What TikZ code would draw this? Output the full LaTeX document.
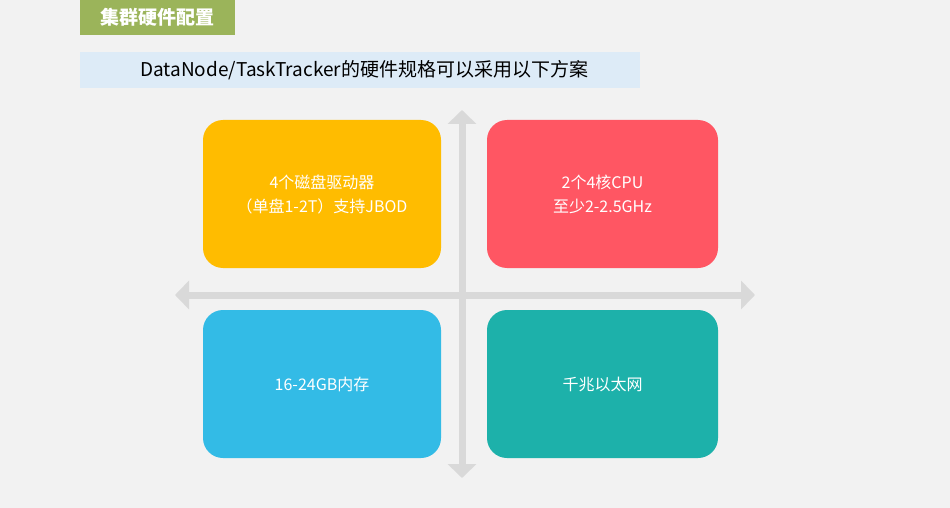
\documentclass[tikz,border=0pt]{standalone}
\usepackage{fontspec}
\setmainfont{Noto Sans CJK SC}
\usetikzlibrary{arrows.meta}
\definecolor{bg}{HTML}{F2F2F2}
\definecolor{tgreen}{HTML}{9BB45A}
\definecolor{sband}{HTML}{DDEBF7}
\definecolor{axis}{HTML}{D9D9D9}
\definecolor{corange}{HTML}{FFBC00}
\definecolor{cred}{HTML}{FF5663}
\definecolor{cblue}{HTML}{33BBE6}
\definecolor{cteal}{HTML}{1DB1AA}
\tikzset{
  quad/.style={rounded corners=20pt, minimum width=238pt, minimum height=148pt, inner sep=0pt, text=white, font=\fontsize{16pt}{24pt}\selectfont, align=center},
  axisline/.style={draw=axis, line width=7pt, -{Triangle[width=28pt,length=14pt]}}
}
\begin{document}
\begin{tikzpicture}[x=1pt,y=-1pt]
\fill[bg] (0,0) rectangle (950,508);
\useasboundingbox (0,0) rectangle (950,508);
\node[fill=tgreen, minimum width=155pt, minimum height=35pt, inner sep=0pt, text=white, font=\bfseries\fontsize{19pt}{22pt}\selectfont] (title) at (157.5,17.5) {集群硬件配置};
\node[fill=sband, minimum width=560pt, minimum height=36pt, inner sep=0pt, anchor=west, text=black, font=\fontsize{19pt}{22pt}\selectfont] (sub) at (80,70) {\hspace{8pt}DataNode/TaskTracker的硬件规格可以采用以下方案\hfill};
\coordinate (c) at (462,295);
\coordinate (l) at (175,295);
\coordinate (r) at (755,295);
\coordinate (t) at (462,110);
\coordinate (b) at (462,478);
\draw[axisline] (c) -- (l);
\draw[axisline] (c) -- (r);
\draw[axisline] (c) -- (t);
\draw[axisline] (c) -- (b);
\node[quad, fill=corange] (q1) at (322,194) {4个磁盘驱动器\\（单盘1-2T）支持JBOD};
\node[quad, fill=cred, minimum width=231pt] (q2) at (602.5,194) {2个4核CPU\\至少2-2.5GHz};
\node[quad, fill=cblue] (q3) at (322,384) {16-24GB内存};
\node[quad, fill=cteal, minimum width=231pt] (q4) at (602.5,384) {千兆以太网};
\end{tikzpicture}
\end{document}
